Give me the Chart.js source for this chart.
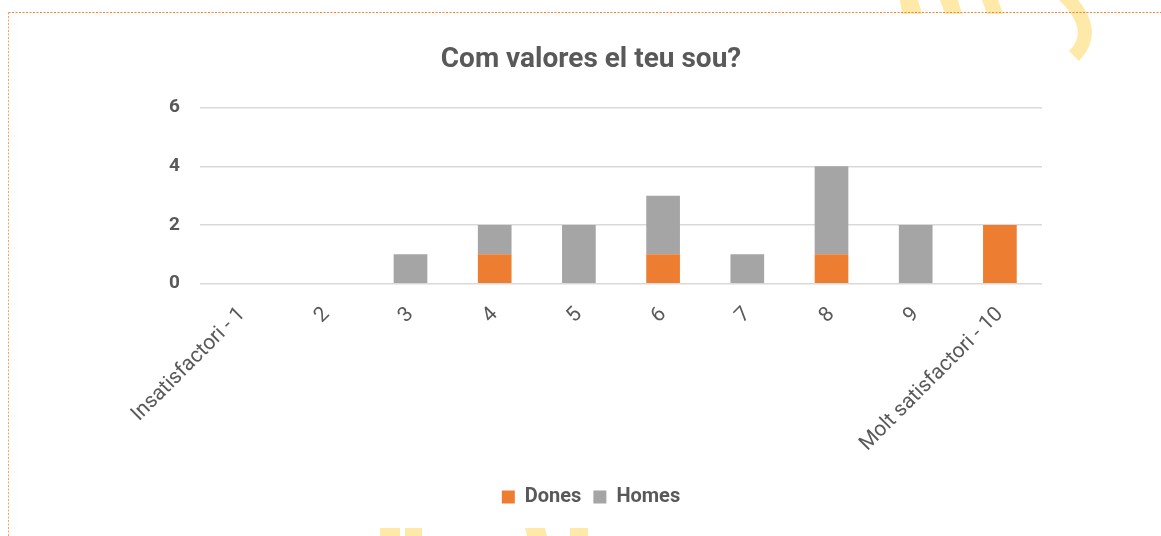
<!DOCTYPE html>
<html>
<head>
<meta charset="utf-8">
<script src="https://cdn.jsdelivr.net/npm/chart.js@4/dist/chart.umd.min.js"></script>
<style>
  html,body{margin:0;padding:0;background:#fff;}
  canvas{display:block;}
</style>
</head>
<body>
<canvas id="c" width="1161" height="536"></canvas>
<script>
const categories = ["Insatisfactori - 1","2","3","4","5","6","7","8","9","Molt satisfactori - 10"];
const dones = [0,0,0,1,0,1,0,1,0,2];
const homes = [0,0,1,1,2,2,1,3,2,0];
const yTicks = [0,2,4,6];

const FONT = "'Roboto', 'DejaVu Sans', sans-serif";
const TXT = "#595959";

const decor = {
  id: 'decor',
  beforeDraw(chart) {
    const ctx = chart.ctx;
    ctx.save();
    ctx.fillStyle = "rgba(255,226,140,0.75)";
    ctx.strokeStyle = "rgba(255,226,140,0.75)";
    const polys = [
      [[900,0],[918,0],[922,14],[902,14]],
      [[940,0],[958,0],[962,14],[945,14]],
      [[982,0],[998,0],[1003,14],[987,14]],
      [[380,528],[400,528],[400,536],[380,536]],
      [[405,528],[422,528],[422,536],[405,536]],
      [[525,528],[545,528],[547,536],[527,536]],
      [[570,528],[588,528],[588,536],[570,536]]
    ];
    polys.forEach(p => {
      ctx.beginPath();
      ctx.moveTo(p[0][0], p[0][1]);
      for (let i = 1; i < p.length; i++) ctx.lineTo(p[i][0], p[i][1]);
      ctx.closePath();
      ctx.fill();
    });
    ctx.lineWidth = 14;
    ctx.beginPath();
    ctx.moveTo(1064, -5);
    ctx.quadraticCurveTo(1100, 30, 1074, 56);
    ctx.stroke();
    // dotted frame
    ctx.lineWidth = 1;
    ctx.setLineDash([2, 1.5]);
    ctx.strokeStyle = '#EE8434';
    ctx.beginPath();
    ctx.moveTo(8.5, 12.5);
    ctx.lineTo(1161, 12.5);
    ctx.stroke();
    ctx.strokeStyle = '#F3A46B';
    ctx.beginPath();
    ctx.moveTo(8.5, 12.5);
    ctx.lineTo(8.5, 536);
    ctx.stroke();
    ctx.restore();
  }
};

new Chart(document.getElementById('c'), {
  type: 'bar',
  data: {
    labels: categories,
    datasets: [
      { label: 'Dones', data: dones, backgroundColor: '#ED7D31', barPercentage: 0.8, categoryPercentage: 0.5 },
      { label: 'Homes', data: homes, backgroundColor: '#A5A5A5', barPercentage: 0.8, categoryPercentage: 0.5 }
    ]
  },
  plugins: [decor],
  options: {
    responsive: false,
    animation: false,
    devicePixelRatio: 1,
    layout: { padding: { left: 140, right: 119, top: 24, bottom: 19 } },
    plugins: {
      title: {
        display: true,
        text: 'Com valores el teu sou?',
        color: TXT,
        font: { family: FONT, size: 28, weight: 'bold' },
        padding: { top: 19, bottom: 31 }
      },
      legend: {
        position: 'bottom',
        labels: {
          color: TXT,
          font: { family: FONT, size: 20, weight: 'bold' },
          boxWidth: 13, boxHeight: 13,
          padding: 12
        }
      },
      tooltip: { enabled: false }
    },
    scales: {
      x: {
        stacked: true,
        grid: { display: false, drawTicks: false },
        border: { display: false },
        afterFit(axis) { axis.paddingLeft = 0; axis.paddingRight = 0; },
        ticks: {
          color: TXT,
          font: { family: FONT, size: 21 },
          minRotation: 45, maxRotation: 45,
          padding: 18.5,
          autoSkip: false
        }
      },
      y: {
        stacked: true,
        min: 0, max: 6,
        afterBuildTicks(axis) { axis.ticks = yTicks.map(v => ({ value: v })); },
        afterFit(axis) { axis.width = 60; },
        grid: { color: '#D9D9D9', lineWidth: 1.5, drawTicks: false },
        border: { display: false },
        ticks: {
          color: TXT,
          font: { family: FONT, size: 19, weight: 'bold' },
          padding: 20
        }
      }
    }
  }
});
</script>
</body>
</html>
